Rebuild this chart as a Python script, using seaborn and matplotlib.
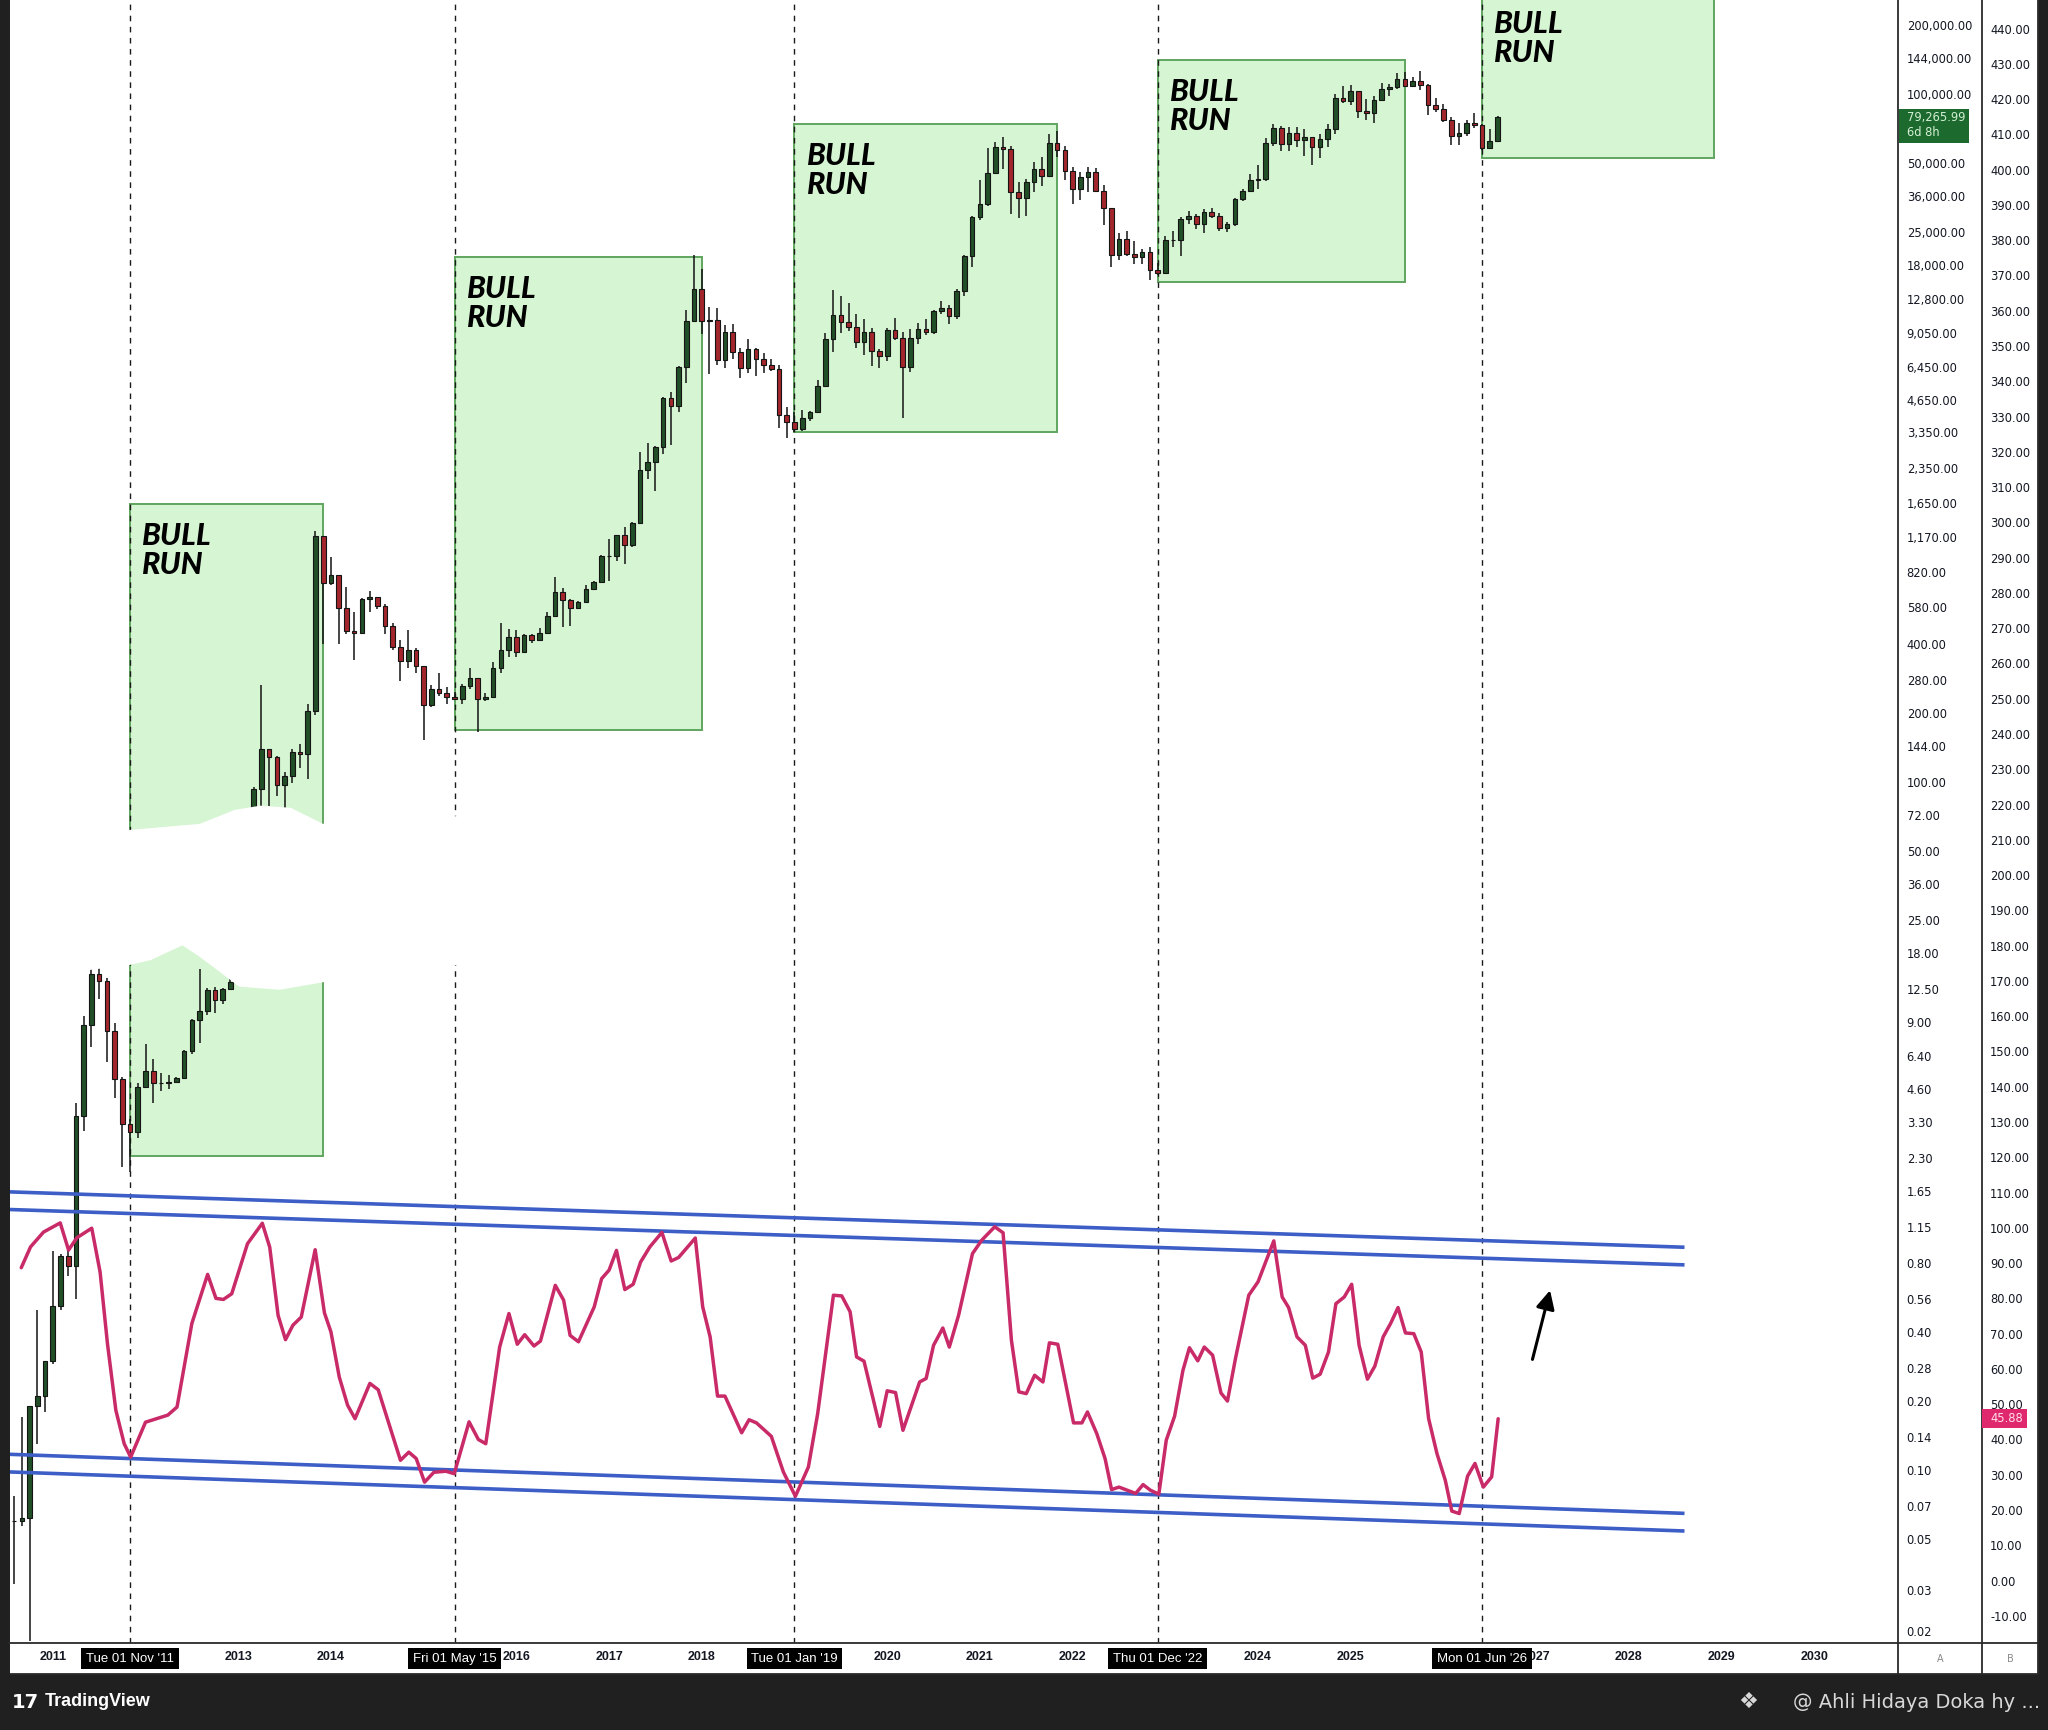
import matplotlib
matplotlib.use("Agg")
import matplotlib.pyplot as plt
import matplotlib.patches as mpatches
import matplotlib.transforms as mtransforms
from matplotlib.lines import Line2D
from matplotlib.ticker import FixedLocator, NullLocator
import numpy as np
import pandas as pd
import seaborn as sns


# ── Data ──────────────────────────────────────────────────────────────────────

# monthly candles, first one is Aug 2010, open of each month = previous close
first_month = "2010-08"
first_open = 0.06
closes = [
    0.06, 0.062, 0.19, 0.21, 0.30,                                              # 2010
    0.52, 0.86, 0.78, 3.5, 8.7, 14.6, 13.6, 8.2, 5.1, 3.25, 2.97, 4.7,          # 2011
    5.5, 4.9, 4.9, 4.95, 5.15, 6.7, 9.2, 10.1, 12.4, 11.2, 12.5, 13.5,          # 2012
    20.4, 33.4, 93, 139, 129, 97, 106, 135, 133, 205, 1180, 740,                # 2013
    800, 573, 457, 447, 630, 640, 586, 481, 387, 338, 378, 320,                 # 2014
    217, 254, 244, 236, 230, 263, 284, 230, 236, 314, 377, 430,                 # 2015
    369, 437, 416, 448, 531, 673, 624, 575, 609, 698, 745, 963,                 # 2016
    970, 1190, 1080, 1350, 2300, 2490, 2875, 4700, 4340, 6470, 10230, 14160,    # 2017
    10200, 10300, 6900, 9200, 7500, 6400, 7700, 7000, 6600, 6300, 4000, 3700,   # 2018
    3450, 3850, 4100, 5320, 8560, 10820, 10080, 9600, 8300, 9150, 7550, 7200,   # 2019
    9350, 8600, 6440, 8650, 9450, 9140, 11350, 11650, 10780, 13800, 19700, 28990,
    33100, 45140, 58800, 57700, 37300, 35040, 41460, 47100, 43800, 61300, 57000, 46300,
    38500, 43200, 45500, 37700, 31800, 19900, 23300, 20050, 19400, 20500, 17150, 16550,
    23100, 23150, 28450, 29250, 27200, 30450, 29250, 25950, 26950, 34650, 37700, 42300,
    42550, 61150, 71300, 60650, 67500, 62700, 64600, 58950, 63300, 70200, 96400, 93400,
    102400, 84350, 82550, 94200, 104600, 107150, 115750, 108250, 114050, 109600, 89000, 86000,
    77000, 65800, 67500, 75000, 72800, 57800, 62400, 79265.99,                  # 2026
]
highs = [
    0.077, 0.17, 0.19, 0.50, 0.30,
    0.9, 0.88, 0.93, 4.0, 9.6, 32, 15.5, 14, 8.9, 5.2, 3.4, 4.9,
    7.2, 6.2, 5.4, 5.3, 5.2, 6.8, 9.3, 15.4, 12.6, 12.8, 12.7, 13.8,
    20.6, 33.4, 95, 266, 140, 130, 111, 140, 146, 218, 1242, 1163,
    960, 720, 710, 550, 635, 680, 640, 600, 495, 415, 458, 385,
    320, 265, 300, 260, 247, 267, 315, 285, 245, 335, 495, 465,
    460, 440, 440, 470, 550, 780, 700, 630, 615, 720, 750, 980,
    1150, 1200, 1300, 1360, 2760, 3000, 2920, 4750, 5000, 6500, 11400, 19800,
    17200, 11800, 11700, 9800, 9900, 7800, 8500, 7800, 7400, 7000, 6600, 4300,
    4100, 4200, 4150, 5640, 9100, 13900, 13200, 12300, 10950, 10400, 9500, 7750,
    9580, 10500, 9200, 9450, 10070, 10400, 11450, 12480, 12050, 14100, 19900, 29300,
    41950, 58350, 61800, 64900, 59500, 41300, 42400, 50500, 52900, 67000, 69000, 59000,
    47900, 45800, 48200, 47500, 39900, 31900, 24700, 25200, 22800, 21000, 21500, 18400,
    23950, 25250, 29200, 31000, 29850, 31400, 31800, 30200, 27500, 35200, 38450, 44700,
    48950, 64000, 73800, 72700, 71950, 71950, 70000, 65100, 66500, 73600, 99600, 108300,
    109600, 102500, 95000, 97900, 111900, 110400, 123200, 124450, 117900, 126200, 110500, 95600,
    90000, 79000, 74500, 77000, 82700, 74000, 70400, 80300,
]
lows = [
    0.032, 0.057, 0.018, 0.13, 0.18,
    0.29, 0.5, 0.70, 0.56, 3.0, 7.0, 11.3, 6.0, 4.2, 2.1, 2.0, 2.8,
    4.7, 4.0, 4.5, 4.6, 4.9, 5.1, 6.5, 7.3, 9.7, 9.9, 10.8, 12.5,
    13.2, 19.6, 33, 50, 79, 87, 65, 99, 115, 103, 197, 400,
    720, 400, 440, 340, 440, 550, 570, 440, 375, 275, 315, 300,
    152, 212, 237, 218, 227, 219, 255, 165, 225, 235, 300, 350,
    350, 365, 405, 415, 440, 525, 475, 480, 570, 605, 690, 740,
    750, 920, 890, 1060, 1350, 2100, 1850, 2700, 2950, 4100, 5500, 10800,
    9000, 6000, 6600, 6400, 7000, 5800, 6100, 5900, 6100, 6200, 3500, 3150,
    3350, 3390, 3750, 4060, 5300, 7500, 9100, 9300, 7800, 7300, 6500, 6400,
    6850, 8450, 3850, 6150, 8100, 8900, 8980, 10950, 9900, 10400, 13200, 17600,
    28100, 32300, 45000, 47000, 30000, 28800, 29300, 37300, 39600, 43300, 53300, 42000,
    33000, 34300, 37200, 37400, 26700, 17600, 18800, 19550, 18150, 18200, 15500, 16300,
    16500, 21400, 19550, 26950, 25800, 24800, 28850, 25150, 24900, 26550, 34100, 37600,
    38550, 41900, 59300, 56500, 56550, 58400, 53500, 49000, 52550, 58900, 66850, 91300,
    89200, 78250, 76600, 74400, 93400, 98200, 105100, 107300, 107300, 103500, 80500, 83000,
    75500, 60000, 60000, 65500, 71000, 57000, 57500, 61800,
]

# oscillator (scale B) at its turning points
osc_year = [
    2010.66, 2010.76, 2010.90, 2011.08, 2011.17, 2011.26, 2011.42, 2011.51, 2011.59,
    2011.68, 2011.77, 2011.84, 2012.00, 2012.24, 2012.34, 2012.50, 2012.67, 2012.76,
    2012.84, 2012.93, 2013.10, 2013.26, 2013.34, 2013.43, 2013.51, 2013.59, 2013.68,
    2013.83, 2013.93, 2014.00, 2014.09, 2014.18, 2014.26, 2014.42, 2014.51, 2014.75,
    2014.84, 2014.92, 2015.01, 2015.11, 2015.24, 2015.33, 2015.49, 2015.59, 2015.67,
    2015.82, 2015.92, 2016.01, 2016.09, 2016.19, 2016.26, 2016.42, 2016.51, 2016.58,
    2016.67, 2016.84, 2016.92, 2017.00, 2017.08, 2017.17, 2017.26, 2017.34, 2017.44,
    2017.57, 2017.67, 2017.75, 2017.93, 2018.01, 2018.09, 2018.17, 2018.25, 2018.43,
    2018.51, 2018.59, 2018.75, 2018.88, 2019.01, 2019.15, 2019.25, 2019.42, 2019.51,
    2019.60, 2019.67, 2019.75, 2019.92, 2020.00, 2020.09, 2020.17, 2020.35, 2020.42,
    2020.50, 2020.60, 2020.67, 2020.77, 2020.92, 2021.02, 2021.16, 2021.25, 2021.34,
    2021.42, 2021.50, 2021.59, 2021.68, 2021.75, 2021.84, 2022.01, 2022.10, 2022.16,
    2022.26, 2022.35, 2022.42, 2022.50, 2022.59, 2022.68, 2022.76, 2022.84, 2022.93,
    2023.01, 2023.10, 2023.19, 2023.26, 2023.35, 2023.42, 2023.51, 2023.60, 2023.67,
    2023.76, 2023.90, 2024.00, 2024.17, 2024.26, 2024.33, 2024.42, 2024.51, 2024.59,
    2024.67, 2024.76, 2024.84, 2024.93, 2025.01, 2025.09, 2025.18, 2025.26, 2025.35,
    2025.43, 2025.51, 2025.59, 2025.68, 2025.76, 2025.84, 2025.93, 2026.02, 2026.09,
    2026.17, 2026.26, 2026.34, 2026.43, 2026.52, 2026.59,
]
osc_value = [
    88.7, 94.6, 98.8, 101.4, 93.7, 97.2, 99.9, 87.5, 67.1,
    48.3, 38.8, 35.0, 44.9, 46.9, 49.2, 72.9, 86.8, 80.0,
    79.7, 81.3, 95.5, 101.3, 94.5, 75.2, 68.3, 72.4, 74.7,
    93.8, 75.9, 70.5, 57.7, 49.7, 45.9, 55.9, 54.1, 34.1,
    36.4, 34.6, 27.9, 30.7, 31.0, 30.3, 45.0, 40.0, 38.8,
    66.2, 75.7, 67.0, 69.7, 66.5, 67.9, 83.7, 79.5, 69.5,
    67.7, 77.6, 85.6, 88.0, 93.6, 82.5, 84.0, 90.3, 94.6,
    98.7, 90.6, 91.6, 97.1, 77.6, 69.1, 52.3, 52.3, 41.9,
    45.6, 44.7, 40.9, 30.8, 23.9, 32.2, 47.3, 80.9, 80.7,
    76.2, 63.4, 62.2, 43.7, 53.8, 53.3, 42.6, 56.3, 57.3,
    66.7, 71.6, 66.2, 75.2, 92.7, 96.5, 100.3, 98.6, 68.1,
    53.5, 53.0, 58.2, 56.3, 67.4, 67.0, 44.7, 44.7, 47.8,
    41.7, 34.6, 25.8, 26.5, 25.6, 24.7, 27.2, 25.6, 24.5,
    39.8, 46.6, 59.6, 66.0, 62.3, 66.2, 63.9, 53.2, 50.9,
    63.4, 80.9, 84.7, 96.3, 80.4, 77.4, 69.1, 66.7, 57.4,
    58.5, 64.8, 78.5, 80.4, 84.0, 66.7, 57.1, 60.8, 69.1,
    72.9, 77.4, 70.2, 70.0, 64.8, 45.9, 36.0, 28.4, 19.7,
    19.0, 29.6, 33.2, 26.5, 29.4, 45.88,
]

cycle_dates = ["2011-11", "2015-05", "2019-01", "2022-12", "2026-06"]
cycle_labels = ["Tue 01 Nov '11", "Fri 01 May '15", "Tue 01 Jan '19",
                "Thu 01 Dec '22", "Mon 01 Jun '26"]

box_start = ["2011-11", "2015-05", "2019-01", "2022-12", "2026-06"]
box_end = ["2013-12", "2018-01", "2021-11", "2025-08", "2028-12"]
box_low = [2.34, 168, 3366, 15100, 52600]
box_high = [1628, 19500, 73800, 140000, 400000]

# channel trend lines on the oscillator scale
channel_x = [2010.53, 2028.60]
channel_lines = [
    [110.2, 94.5],
    [105.2, 89.5],
    [35.8, 19.05],
    [30.8, 14.05],
]

arrow_from = (2026.96, 62.7)
arrow_to = (2027.15, 82.3)

price_ticks = [200000, 144000, 100000, 50000, 36000, 25000, 18000, 12800, 9050,
               6450, 4650, 3350, 2350, 1650, 1170, 820, 580, 400, 280, 200, 144,
               100, 72, 50, 36, 25, 18, 12.5, 9, 6.4, 4.6, 3.3, 2.3, 1.65, 1.15,
               0.8, 0.56, 0.4, 0.28, 0.2, 0.14, 0.1, 0.07, 0.05, 0.03, 0.02]
osc_ticks = list(range(-10, 450, 10))
# years whose label sits fully under a date flag are not shown
year_ticks = [2011, 2013, 2014, 2016, 2017, 2018, 2020, 2021, 2022,
              2024, 2025, 2027, 2028, 2029, 2030]

last_price = 79265.99
last_price_timer = "6d 8h"
last_osc = 45.88

# white smudge that hides part of the 2011-2013 candles in the source image
smudge_year = [2010.50, 2011.83, 2012.59, 2012.97, 2013.24, 2013.56, 2013.91, 2014.53, 2015.50,
               2015.50, 2014.96, 2013.91, 2013.45, 2013.02, 2012.59, 2012.40, 2012.05,
               2011.83, 2011.40, 2010.50]
smudge_price = [61.9, 60.6, 64.4, 74.2, 77.3, 75.7, 64.4, 67.2, 70.0,
                17.1, 14.4, 13.7, 12.7, 13.1, 17.7, 19.9, 17.1,
                16.3, 15.5, 15.5]


# ── Layout (pixels of the 2048x1730 picture) ──────────────────────────────────

W, H, DPI = 2048, 1730, 100
PLOT_L, PLOT_R, PLOT_B = 9.5, 1898.3, 1643
COL_B = 1981.7
RIGHT_EDGE = 2037.7
STRIP_B = 1674
XLIM = (2010.533, 2030.906)
YLIM_A = (0.01768, 256500)
YLIM_B = (-17.7, 448.1)

UP, DOWN, WICK = "#214f27", "#a3262c", "#141414"
OSC_COLOR = "#c92a68"
CHANNEL_COLOR = "#3c5ec6"
TEXT = "#131722"
GRID_LINE = "#2a2a2a"


def fx(px):
    return px / W


def fy(py):
    return 1 - py / H


def dec_year(s):
    p = pd.Period(s, freq="M")
    return p.year + (p.month - 1) / 12


sns.set_theme(style="white")
plt.rcParams["font.family"] = ["DejaVu Sans"]

fig = plt.figure(figsize=(W / DPI, H / DPI), dpi=DPI, facecolor="#202020")
fig.add_artist(mpatches.Rectangle((fx(PLOT_L), fy(STRIP_B)), fx(RIGHT_EDGE) - fx(PLOT_L),
                                  fy(0) - fy(STRIP_B), transform=fig.transFigure,
                                  facecolor="white", edgecolor="none", zorder=-5))

ax = fig.add_axes([fx(PLOT_L), fy(PLOT_B), fx(PLOT_R) - fx(PLOT_L), fy(0) - fy(PLOT_B)])
ax2 = ax.twinx()
ax.set_facecolor("white")

# ── Price pane (scale A, log) ─────────────────────────────────────────────────

ax.set_yscale("log")
ax.set_xlim(*XLIM)
ax.set_ylim(*YLIM_A)

for s, e, lo, hi in zip(box_start, box_end, box_low, box_high):
    x0, x1 = dec_year(s), dec_year(e)
    ax.add_patch(mpatches.Rectangle((x0, lo), x1 - x0, hi - lo, facecolor="#d6f5d2",
                                    edgecolor="#5fa55f", lw=1.4, zorder=1))
    clipped = hi > YLIM_A[1]
    ax.annotate("BULL\nRUN", xy=(x0, min(hi, YLIM_A[1])), xytext=(12, -10 if clipped else -18),
                textcoords="offset pixels", ha="left", va="top", fontsize=22,
                family=["Lato", "DejaVu Sans"], fontweight="black", style="italic",
                color="black", linespacing=1.05, zorder=5, annotation_clip=False)

for d in cycle_dates:
    ax.axvline(dec_year(d), color="#1a1a1a", lw=1.0, ls=(0, (4, 4)), zorder=2)

months = pd.period_range(first_month, periods=len(closes), freq="M")
cx = np.asarray(months.year + (months.month - 1) / 12, dtype=float)
c = np.asarray(closes, dtype=float)
o = np.r_[first_open, c[:-1]]
hi_arr = np.asarray(highs, dtype=float)
lo_arr = np.asarray(lows, dtype=float)
colors = np.where(c >= o, UP, DOWN)

ax.vlines(cx, lo_arr, hi_arr, color=WICK, lw=1.1, zorder=3)
ax.bar(cx, np.abs(c - o), bottom=np.minimum(o, c), width=0.05, color=colors,
       edgecolor=WICK, linewidth=0.8, zorder=4)

ax.fill(smudge_year, smudge_price, facecolor="white", edgecolor="white", lw=3, zorder=6)

ax.yaxis.set_major_locator(FixedLocator(price_ticks))
ax.yaxis.set_minor_locator(NullLocator())
ax.set_yticklabels([f"{v:,.2f}" for v in price_ticks])
ax.yaxis.tick_right()
ax.tick_params(axis="y", which="both", length=0, pad=6, labelsize=8.3,
               labelcolor=TEXT, left=False, labelleft=False, right=True, labelright=True)

ax.set_xticks(year_ticks)
ax.set_xticklabels([str(y) for y in year_ticks])
ax.tick_params(axis="x", length=0, pad=5.5, labelcolor=TEXT)
for lbl in ax.get_xticklabels():
    lbl.set_fontfamily(["Liberation Sans", "DejaVu Sans"])
    lbl.set_fontweight("bold")
    lbl.set_fontsize(9)

for d, txt in zip(cycle_dates, cycle_labels):
    ax.text(dec_year(d), -15.6 / PLOT_B, txt,
            transform=mtransforms.blended_transform_factory(ax.transData, ax.transAxes),
            ha="center", va="center", color="white", fontsize=9.5,
            family=["Liberation Sans", "DejaVu Sans"], zorder=10, clip_on=False,
            bbox=dict(boxstyle="square,pad=0.35", facecolor="black", edgecolor="none"))

ax.grid(False)
ax.spines["top"].set_visible(False)
ax.spines["left"].set_visible(False)
for side in ["bottom", "right"]:
    ax.spines[side].set_color(GRID_LINE)
    ax.spines[side].set_linewidth(1.3)
    ax.spines[side].set_visible(True)
    ax.spines[side].set_zorder(9)

# ── Oscillator pane (scale B, linear) ─────────────────────────────────────────

for vals in channel_lines:
    ax2.plot(channel_x, vals, color=CHANNEL_COLOR, lw=2.6, solid_capstyle="butt", zorder=3)

sns.lineplot(x=osc_year, y=osc_value, ax=ax2, color=OSC_COLOR, lw=2.5,
             estimator=None, sort=False, zorder=5)

ax2.annotate("", xy=arrow_to, xytext=arrow_from,
             arrowprops=dict(arrowstyle="-|>,head_length=0.8,head_width=0.4",
                             color="black", lw=2.2, mutation_scale=14,
                             shrinkA=0, shrinkB=0), zorder=7)

ax2.set_xlim(*XLIM)
ax2.set_ylim(*YLIM_B)
ax2.set_xlabel("")
ax2.set_ylabel("")
ax2.yaxis.set_major_locator(FixedLocator(osc_ticks))
ax2.set_yticklabels([f"{v:.2f}" for v in osc_ticks])
ax2.tick_params(axis="y", length=0, pad=6, labelsize=8.3, labelcolor=TEXT)
for v, lbl in zip(osc_ticks, ax2.get_yticklabels()):
    if v % 50 == 0:
        lbl.set_fontweight("bold")
ax2.grid(False)
for side in ["top", "bottom", "left"]:
    ax2.spines[side].set_visible(False)
ax2.spines["right"].set_position(("outward", (COL_B - PLOT_R) * 72 / DPI))
ax2.spines["right"].set_color(GRID_LINE)
ax2.spines["right"].set_linewidth(1.3)

# keep the price scale on the right after twinx
ax.yaxis.tick_right()
ax.yaxis.set_label_position("right")

# ── Frame lines, column letters, live value labels ────────────────────────────

frame = [
    ((PLOT_R, RIGHT_EDGE), (PLOT_B, PLOT_B)),
    ((PLOT_L, RIGHT_EDGE), (STRIP_B, STRIP_B)),
    ((PLOT_R, PLOT_R), (PLOT_B, STRIP_B)),
    ((COL_B, COL_B), (PLOT_B, STRIP_B)),
    ((RIGHT_EDGE, RIGHT_EDGE), (0, STRIP_B)),
]
for xs, ys in frame:
    fig.add_artist(Line2D([fx(v) for v in xs], [fy(v) for v in ys],
                          transform=fig.transFigure, color=GRID_LINE, lw=1.3))

fig.text(fx(1940), fy(1659.5), "A", ha="center", va="center", fontsize=7, color="#8a8a8a")
fig.text(fx(2010), fy(1659.5), "B", ha="center", va="center", fontsize=7, color="#8a8a8a")

ident = mtransforms.IdentityTransform()
yd = ax.transData.transform((XLIM[0], last_price))[1]
fig.add_artist(mpatches.Rectangle((PLOT_R + 1, yd - 26), 70, 33.7, transform=ident,
                                  facecolor="#1d6a2f", edgecolor="none", zorder=20))
fig.text(PLOT_R + 8.4, yd, f"{last_price:,.2f}", transform=ident, ha="left", va="center",
         fontsize=8.3, color="#d4f0d4", zorder=21)
fig.text(PLOT_R + 8.4, yd - 15, last_price_timer, transform=ident, ha="left", va="center",
         fontsize=8.3, color="#d4f0d4", zorder=21)

yd2 = ax2.transData.transform((XLIM[0], last_osc))[1]
fig.add_artist(mpatches.Rectangle((COL_B, yd2 - 9.3), 45, 18.6, transform=ident,
                                  facecolor="#e0286e", edgecolor="none", zorder=20))
fig.text(COL_B + 8.3, yd2, f"{last_osc:.2f}", transform=ident, ha="left", va="center",
         fontsize=8.3, color="#ffe0ea", zorder=21)

# ── Footer ────────────────────────────────────────────────────────────────────

fig.text(fx(12), fy(1702), "17", ha="left", va="center", fontsize=14, fontweight="heavy",
         color="white")
fig.text(fx(45), fy(1702), "TradingView", ha="left", va="center", fontsize=13,
         fontweight="bold", color="white", family=["Liberation Sans", "DejaVu Sans"])
fig.text(fx(1748), fy(1702), "\u2756", ha="center", va="center", fontsize=16,
         color="#d8d8d8")
fig.text(fx(2040), fy(1702), "@ Ahli Hidaya Doka hy ...", ha="right", va="center",
         fontsize=14, color="#d8d8d8")

fig.savefig("out.png", dpi=DPI, facecolor=fig.get_facecolor())
